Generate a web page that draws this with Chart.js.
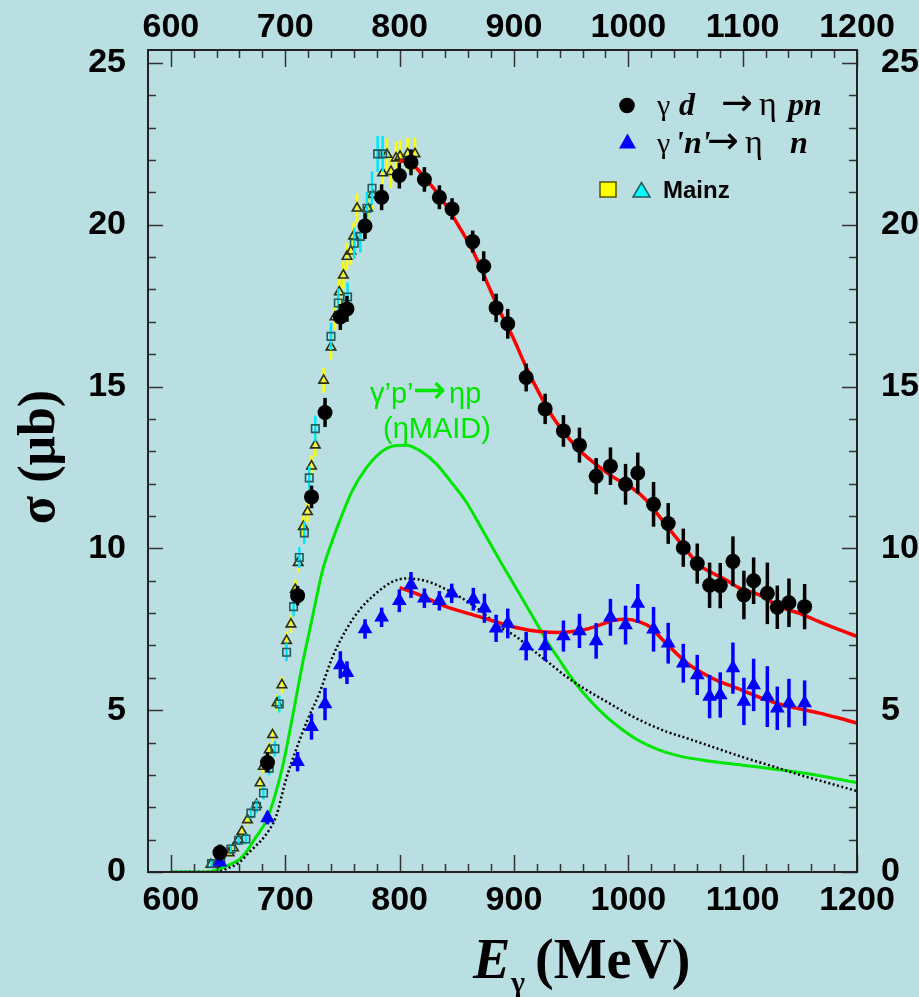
<!DOCTYPE html>
<html>
<head>
<meta charset="utf-8">
<title>eta photoproduction off the deuteron</title>
<script src="https://cdn.jsdelivr.net/npm/chart.js@4.4.1/dist/chart.umd.min.js"></script>
<style>
  html, body { margin: 0; padding: 0; background: #badfe3; }
  canvas { display: block; }
</style>
</head>
<body>
<canvas id="sigmaChart" width="919" height="997"></canvas>
<script>
// ===== cross section data =====

// axis ranges and labelled ticks
const energyRange = [580, 1200];
const sigmaRange = [0, 25.4];
const energyTicks = [600, 700, 800, 900, 1000, 1100, 1200];
const sigmaTicks = [0, 5, 10, 15, 20, 25];

// gamma d -> eta p n (black circles)
const pnEnergy = [642.9, 684.5, 710.8, 723.0, 734.8, 748.2, 754.0, 769.8, 784.3, 799.8,
    810.0, 821.7, 834.8, 845.9, 863.9, 873.6, 884.4, 894.6, 910.7, 927.3,
    943.3, 957.3, 971.9, 984.4, 997.6, 1008.3, 1022.1, 1034.9, 1048.1, 1060.3,
    1071.1, 1080.4, 1091.5, 1101.1, 1109.6, 1121.6, 1130.3, 1140.5, 1154.2];
const pnSigma = [0.60, 3.38, 8.54, 11.59, 14.20, 17.15, 17.40, 19.96, 20.85, 21.52,
    21.93, 21.40, 20.85, 20.49, 19.48, 18.72, 17.43, 16.94, 15.28, 14.31,
    13.63, 13.19, 12.23, 12.54, 11.98, 12.33, 11.36, 10.77, 10.02, 9.53,
    8.86, 8.85, 9.60, 8.56, 9.00, 8.61, 8.18, 8.32, 8.20];
const pnError = [0.25, 0.3, 0.3, 0.35, 0.45, 0.4, 0.4, 0.4, 0.4, 0.4,
    0.4, 0.38, 0.37, 0.33, 0.34, 0.46, 0.44, 0.46, 0.43, 0.47,
    0.49, 0.54, 0.56, 0.58, 0.63, 0.63, 0.69, 0.63, 0.59, 0.62,
    0.7, 0.7, 0.77, 0.75, 0.72, 0.95, 0.67, 0.75, 0.7];

// gamma 'n' -> eta n (blue triangles)
const nEnergy = [642.9, 684.5, 710.8, 723.0, 734.8, 748.2, 754.0, 769.8, 784.3, 799.8,
    810.0, 821.7, 834.8, 845.6, 864.5, 874.2, 884.4, 894.6, 910.7, 927.3,
    943.3, 957.3, 971.9, 984.4, 997.6, 1008.3, 1022.1, 1034.9, 1048.1, 1060.3,
    1071.1, 1080.4, 1091.5, 1101.1, 1109.6, 1121.6, 1130.3, 1140.5, 1154.2];
const nSigma = [0.30, 1.67, 3.41, 4.49, 5.19, 6.40, 6.16, 7.51, 7.87, 8.38,
    8.87, 8.46, 8.38, 8.61, 8.43, 8.15, 7.53, 7.68, 6.98, 6.98,
    7.29, 7.45, 7.14, 7.87, 7.63, 8.30, 7.50, 7.07, 6.45, 6.09,
    5.42, 5.47, 6.30, 5.27, 5.78, 5.42, 5.06, 5.22, 5.22];
const nError = [0.15, 0.2, 0.3, 0.4, 0.5, 0.42, 0.35, 0.3, 0.3, 0.35,
    0.4, 0.3, 0.3, 0.3, 0.35, 0.45, 0.42, 0.46, 0.44, 0.46,
    0.48, 0.53, 0.55, 0.57, 0.6, 0.6, 0.69, 0.63, 0.6, 0.62,
    0.67, 0.7, 0.79, 0.73, 0.81, 0.94, 0.67, 0.75, 0.7];

// Mainz, open triangles (yellow bars)
const mainzTriEnergy = [635.0, 639.4, 651.0, 654.8, 659.2, 662.1, 667.0, 674.9, 677.9, 680.8,
    686.0, 688.9, 692.8, 697.1, 701.2, 705.0, 708.8, 711.4, 715.8, 719.5,
    723.0, 726.3, 733.6, 740.0, 743.5, 747.3, 750.8, 754.0, 757.5, 759.8,
    762.8, 772.0, 776.4, 785.2, 789.0, 792.5, 796.9, 800.4, 807.1, 813.5];
const mainzTriSigma = [0.23, 0.23, 0.59, 0.74, 1.00, 1.25, 1.61, 2.08, 2.75, 3.26,
    3.77, 4.24, 5.22, 5.78, 7.15, 7.66, 8.73, 9.56, 10.67, 11.13,
    12.54, 13.19, 15.19, 16.22, 17.15, 17.92, 18.44, 19.02, 19.18, 19.65,
    20.51, 20.51, 20.93, 21.60, 22.17, 21.64, 22.06, 22.11, 22.19, 22.19];
const mainzTriError = [0.1, 0.1, 0.12, 0.12, 0.15, 0.15, 0.15, 0.18, 0.2, 0.2,
    0.22, 0.22, 0.25, 0.25, 0.28, 0.28, 0.3, 0.3, 0.32, 0.32,
    0.33, 0.35, 0.38, 0.38, 0.4, 0.4, 0.42, 0.42, 0.42, 0.42,
    0.45, 0.45, 0.45, 0.48, 0.5, 0.5, 0.5, 0.5, 0.5, 0.5];

// Mainz, open squares (cyan bars)
const mainzSqEnergy = [635.5, 643.7, 652.5, 659.2, 665.6, 670.0, 674.9, 681.0, 686.0, 691.0,
    694.8, 701.2, 707.3, 712.3, 716.7, 721.0, 726.3, 740.0, 746.4, 754.5,
    760.4, 765.7, 771.5, 775.9, 780.8, 785.2];
const mainzSqSigma = [0.26, 0.40, 0.71, 0.98, 1.02, 1.82, 2.03, 2.44, 3.21, 3.81,
    5.19, 6.79, 8.20, 9.72, 10.48, 12.18, 13.70, 16.55, 17.58, 17.77,
    19.43, 19.64, 20.51, 21.13, 22.19, 22.19];
const mainzSqError = [0.1, 0.12, 0.14, 0.15, 0.16, 0.18, 0.2, 0.2, 0.22, 0.24,
    0.26, 0.28, 0.3, 0.32, 0.34, 0.36, 0.4, 0.42, 0.45, 0.45,
    0.48, 0.5, 0.5, 0.52, 0.55, 0.55];

// eta-MAID proton curve (green)
const maidEnergy = [600, 620, 632, 642.3, 651, 659.8, 666, 672.9, 684.5, 697.7,
    706.4, 715.2, 723.9, 732.7, 741.4, 750.2, 758.9, 770.6, 782.3, 793.9,
    805.6, 817.3, 831.9, 844, 858, 872, 887.4, 901.9, 916.5, 928.2,
    939.8, 951.5, 966, 980.7, 995.2, 1008.3, 1025, 1045, 1070, 1100,
    1130, 1160, 1200];
const maidSigma = [0, 0, 0, 0.09, 0.22, 0.38, 0.62, 1.0, 1.67, 3.26,
    4.8, 6.45, 7.89, 9.33, 10.26, 11.08, 11.8, 12.47, 12.93, 13.16,
    13.19, 13.03, 12.62, 12.1, 11.45, 10.6, 9.64, 8.77, 7.89, 7.17,
    6.55, 5.94, 5.32, 4.8, 4.39, 4.08, 3.8, 3.58, 3.43, 3.3,
    3.17, 3.02, 2.76];

// dotted model curve (black)
const dottedEnergy = [600, 640, 650, 660, 667, 674, 682, 692, 700.6, 709.4,
    719.5, 729.8, 741.4, 753.2, 765, 779.4, 793.9, 805.6, 817, 829,
    852.3, 869.8, 887.4, 902, 916.5, 931.1, 945.7, 963.2, 980.7, 998.2,
    1015.7, 1033.2, 1050.7, 1075, 1100, 1125, 1150, 1175, 1200];
const dottedSigma = [0, 0, 0.12, 0.3, 0.55, 0.8, 1.1, 1.72, 2.85, 3.77,
    4.7, 5.52, 6.65, 7.48, 8.1, 8.61, 8.97, 9.07, 9.04, 8.92,
    8.51, 8.1, 7.58, 7.27, 6.86, 6.45, 6.04, 5.63, 5.27, 4.91,
    4.6, 4.34, 4.14, 3.85, 3.55, 3.28, 3.0, 2.75, 2.5];

// red fits through the deuteron and neutron points
const pnFitEnergy = [800, 810, 821.7, 837.7, 852.3, 864, 875.7, 887.4, 899, 910.7,
    922.3, 934, 945.7, 957.3, 969, 986.5, 1004, 1015.7, 1027.3, 1039,
    1050.7, 1062.3, 1074, 1085.7, 1097.3, 1114.8, 1132.3, 1149.8, 1167.3, 1184.8,
    1200];
const pnFitSigma = [21.98, 21.9, 21.47, 20.75, 19.93, 19.2, 18.28, 17.35, 16.53, 15.6,
    14.78, 14.06, 13.5, 13.03, 12.67, 12.21, 11.85, 11.49, 10.98, 10.46,
    9.95, 9.48, 9.23, 9.02, 8.77, 8.56, 8.2, 7.99, 7.73, 7.48,
    7.28];
const nFitEnergy = [800, 817.3, 840.7, 869.8, 887.3, 904.8, 922.3, 939.8, 951.5, 963.2,
    974.8, 986.5, 998.2, 1009.8, 1018.6, 1030.2, 1041.9, 1053.5, 1065.2, 1079.8,
    1091.5, 1106.1, 1120.7, 1135.2, 1149.8, 1167.3, 1184.8, 1200];
const nFitSigma = [8.79, 8.56, 8.2, 7.89, 7.7, 7.53, 7.43, 7.4, 7.43, 7.5,
    7.63, 7.77, 7.81, 7.73, 7.58, 7.17, 6.76, 6.4, 6.14, 5.88,
    5.73, 5.52, 5.32, 5.16, 5.04, 4.91, 4.75, 4.6];

const BG = '#badfe3';
const TICK_FONT = { family: '"Liberation Sans", Arial, sans-serif', size: 34, weight: 'bold', lineHeight: 1 };
const ARROW_FONT = '"DejaVu Sans", sans-serif';

document.addEventListener('DOMContentLoaded', function() {
    initSigmaChart();
});

/**
 * Zip energy / sigma (/ error) arrays into scatter points
 */
function toPoints(xs, ys, errs) {
    return xs.map((x, i) => errs ? { x: x, y: ys[i], err: errs[i] } : { x: x, y: ys[i] });
}

/**
 * Paint the page colour behind everything
 */
const backgroundPlugin = {
    id: 'background',
    beforeDraw(chart) {
        const ctx = chart.ctx;
        ctx.save();
        ctx.fillStyle = BG;
        ctx.fillRect(0, 0, chart.width, chart.height);
        ctx.restore();
    }
};

/**
 * Vertical error bars, drawn just before the markers of their dataset
 */
const errorBarPlugin = {
    id: 'errorBars',
    beforeDatasetDraw(chart, args) {
        const ds = chart.data.datasets[args.index];
        if (!ds.errorColor) return;
        const ctx = chart.ctx;
        const yScale = chart.scales.y;
        ctx.save();
        ctx.strokeStyle = ds.errorColor;
        ctx.lineWidth = ds.errorWidth;
        args.meta.data.forEach((pt, i) => {
            const d = ds.data[i];
            ctx.beginPath();
            ctx.moveTo(pt.x, yScale.getPixelForValue(d.y - d.err));
            ctx.lineTo(pt.x, yScale.getPixelForValue(d.y + d.err));
            ctx.stroke();
        });
        ctx.restore();
    }
};

/**
 * Box around the plot with inward ticks on all four sides
 */
const framePlugin = {
    id: 'frame',
    afterDraw(chart) {
        const ctx = chart.ctx;
        const a = chart.chartArea;
        const xs = chart.scales.x;
        const ys = chart.scales.y;
        ctx.save();
        ctx.strokeStyle = '#333';
        ctx.lineWidth = 1.5;
        ctx.beginPath();
        for (let e = 600; e <= 1200; e += 20) {
            const px = Math.round(xs.getPixelForValue(e)) + 0.5;
            const len = e % 100 === 0 ? 17 : 8;
            ctx.moveTo(px, a.bottom); ctx.lineTo(px, a.bottom - len);
            ctx.moveTo(px, a.top); ctx.lineTo(px, a.top + len);
        }
        for (let s = 0; s <= 25; s += 1) {
            const py = Math.round(ys.getPixelForValue(s)) + 0.5;
            const len = s % 5 === 0 ? 15 : 8;
            ctx.moveTo(a.left, py); ctx.lineTo(a.left + len, py);
            ctx.moveTo(a.right, py); ctx.lineTo(a.right - len, py);
        }
        ctx.stroke();
        ctx.lineWidth = 2;
        ctx.strokeStyle = '#222';
        ctx.strokeRect(a.left, a.top, a.right - a.left, a.bottom - a.top);
        ctx.restore();
    }
};

/**
 * Draw a run of [font, text, x] pieces on one baseline
 */
function drawPieces(ctx, pieces, baseline) {
    pieces.forEach(p => {
        ctx.font = p[0];
        ctx.fillText(p[1], p[2], baseline);
    });
}

/**
 * Axis titles, legend and the MAID annotation
 */
const textPlugin = {
    id: 'texts',
    afterDraw(chart) {
        const ctx = chart.ctx;
        ctx.save();
        ctx.fillStyle = '#000';
        ctx.textBaseline = 'alphabetic';

        // y title
        ctx.save();
        ctx.translate(38, 457);
        ctx.rotate(-Math.PI / 2);
        ctx.textAlign = 'center';
        ctx.font = 'bold 52px "Liberation Serif", serif';
        ctx.fillText('σ (μb)', 0, 16);
        ctx.restore();

        // x title
        ctx.textAlign = 'left';
        ctx.font = 'italic bold 56px "Liberation Serif", serif';
        ctx.fillText('E', 473, 978);
        ctx.font = 'bold 30px "Liberation Serif", serif';
        ctx.fillText('γ', 511, 992);
        ctx.font = 'bold 56px "Liberation Serif", serif';
        ctx.fillText('(MeV)', 535, 978);

        drawLegend(ctx);

        // MAID label
        ctx.fillStyle = '#00e600';
        const sans = '"Liberation Sans", Arial, sans-serif';
        drawPieces(ctx, [
            ['29px ' + sans, 'γ’p’', 370],
            ['40px ' + ARROW_FONT, '→', 413],
            ['29px ' + sans, 'ηp', 449]
        ], 403);
        ctx.font = '29px ' + sans;
        ctx.fillText('(ηMAID)', 383, 438);
        ctx.restore();
    }
};

/**
 * Legend block in the upper right corner
 */
function drawLegend(ctx) {
    const serif = '"Liberation Serif", serif';
    const reg = '30px ' + serif;
    const eta = '34px ' + serif;
    const bi = 'italic bold 32px ' + serif;
    const arrow = '38px ' + ARROW_FONT;

    // black circle
    ctx.fillStyle = '#000';
    ctx.beginPath();
    ctx.arc(627, 105.5, 7.8, 0, 2 * Math.PI);
    ctx.fill();

    // blue triangle
    ctx.fillStyle = '#0000ff';
    ctx.beginPath();
    ctx.moveTo(627.5, 133.5);
    ctx.lineTo(636, 148.5);
    ctx.lineTo(619, 148.5);
    ctx.closePath();
    ctx.fill();

    ctx.fillStyle = '#000';
    drawPieces(ctx, [[reg, 'γ', 657], [bi, 'd', 679], [arrow, '→', 721],
        [eta, 'η', 759], [bi, 'pn', 788]], 115);
    drawPieces(ctx, [[reg, 'γ', 657], [bi, '\'n\'', 675], [arrow, '→', 707],
        [eta, 'η', 745], [bi, 'n', 790]], 152.5);

    // Mainz markers
    ctx.lineWidth = 1.5;
    ctx.fillStyle = '#ffff00';
    ctx.strokeStyle = '#555500';
    ctx.fillRect(600, 182, 16, 15);
    ctx.strokeRect(600, 182, 16, 15);
    ctx.fillStyle = '#00ffff';
    ctx.strokeStyle = '#1d5c5c';
    ctx.beginPath();
    ctx.moveTo(641.5, 182.5);
    ctx.lineTo(650, 197);
    ctx.lineTo(633, 197);
    ctx.closePath();
    ctx.fill();
    ctx.stroke();

    ctx.fillStyle = '#000';
    ctx.font = 'bold 24px "Liberation Sans", Arial, sans-serif';
    ctx.fillText('Mainz', 663, 198);
}

/**
 * Shared settings for the four axes
 */
function axisOptions(position, size, padding) {
    const horizontal = position === 'top' || position === 'bottom';
    return {
        type: 'linear',
        position: position,
        min: horizontal ? energyRange[0] : sigmaRange[0],
        max: horizontal ? energyRange[1] : sigmaRange[1],
        grid: { display: false },
        border: { display: false },
        ticks: {
            color: '#000',
            font: TICK_FONT,
            padding: padding,
            maxRotation: 0,
            autoSkip: false,
            callback: value => String(value)
        },
        afterBuildTicks: function(scale) {
            const vals = horizontal ? energyTicks : sigmaTicks;
            scale.ticks = vals.map(v => ({ value: v }));
        },
        afterFit: function(scale) {
            if (horizontal) scale.height = size;
            else scale.width = size;
        }
    };
}

/**
 * Cross section chart
 */
function initSigmaChart() {
    const canvas = document.getElementById('sigmaChart');
    if (!canvas) return;

    const curve = (xs, ys, color, width, dash, order) => ({
        data: toPoints(xs, ys),
        showLine: true,
        pointRadius: 0,
        borderColor: color,
        borderWidth: width,
        borderDash: dash,
        cubicInterpolationMode: 'monotone',
        order: order
    });

    new Chart(canvas.getContext('2d'), {
        type: 'scatter',
        data: {
            datasets: [
                {
                    label: 'γ d → η pn',
                    data: toPoints(pnEnergy, pnSigma, pnError),
                    pointStyle: 'circle',
                    pointRadius: 7.5,
                    backgroundColor: '#000',
                    borderWidth: 0,
                    errorColor: '#000',
                    errorWidth: 3.5,
                    order: 0
                },
                {
                    label: 'γ \'n\' → η n',
                    data: toPoints(nEnergy, nSigma, nError),
                    pointStyle: 'triangle',
                    pointRadius: 8.5,
                    backgroundColor: '#0000ff',
                    borderColor: '#0000ff',
                    borderWidth: 0,
                    errorColor: '#0000ff',
                    errorWidth: 3.5,
                    order: 1
                },
                curve(pnFitEnergy, pnFitSigma, '#ff0000', 3.5, [], 2),
                curve(nFitEnergy, nFitSigma, '#ff0000', 3.5, [], 2),
                curve(dottedEnergy, dottedSigma, '#000', 2.5, [2, 2.5], 4),
                curve(maidEnergy, maidSigma, '#00e600', 3, [], 5),
                {
                    label: 'Mainz',
                    data: toPoints(mainzSqEnergy, mainzSqSigma, mainzSqError),
                    pointStyle: 'rect',
                    pointRadius: 5.3,
                    backgroundColor: 'rgba(0,0,0,0)',
                    borderColor: '#1d5c5c',
                    borderWidth: 1.6,
                    errorColor: '#00e5ff',
                    errorWidth: 2.5,
                    order: 6
                },
                {
                    label: 'Mainz',
                    data: toPoints(mainzTriEnergy, mainzTriSigma, mainzTriError),
                    pointStyle: 'triangle',
                    pointRadius: 5.5,
                    backgroundColor: 'rgba(0,0,0,0)',
                    borderColor: '#2e2e08',
                    borderWidth: 1.6,
                    errorColor: '#ffff00',
                    errorWidth: 2.5,
                    order: 7
                }
            ]
        },
        options: {
            responsive: false,
            animation: false,
            events: [],
            layout: { padding: 0 },
            plugins: {
                legend: { display: false },
                tooltip: { enabled: false }
            },
            scales: {
                x: axisOptions('bottom', 125, 4),
                x2: axisOptions('top', 50, -3),
                y: axisOptions('left', 148, 14),
                y2: axisOptions('right', 62, 16)
            }
        },
        plugins: [backgroundPlugin, errorBarPlugin, framePlugin, textPlugin]
    });
}
</script>
</body>
</html>
